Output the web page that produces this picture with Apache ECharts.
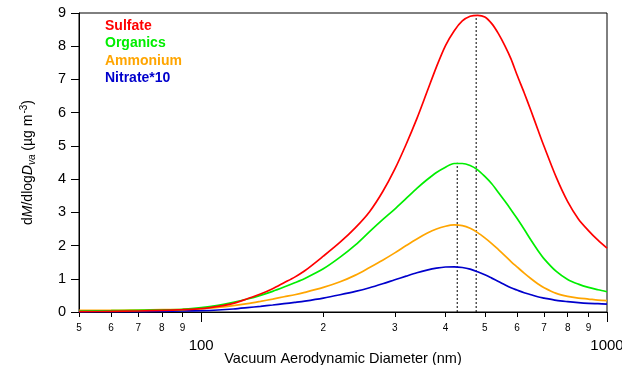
<!DOCTYPE html>
<html>
<head>
<meta charset="utf-8">
<script src="https://cdn.jsdelivr.net/npm/echarts@6/dist/echarts.min.js"></script>
<style>html,body{margin:0;padding:0;background:#fff}#c{width:622px;height:365px}</style>
</head>
<body>
<div id="c"></div>
<script>
var diameters = [50, 60, 70, 80, 90, 100, 110, 120, 130, 140, 150, 160, 170, 180, 200, 220, 240, 260, 280, 300, 320, 340, 360, 380, 400, 420, 440, 460, 480, 500, 520, 540, 560, 580, 600, 625, 650, 675, 700, 750, 800, 850, 900, 950, 1000];
var sulfate = [0.01, 0.02, 0.03, 0.05, 0.07, 0.10, 0.17, 0.26, 0.40, 0.54, 0.70, 0.88, 1.05, 1.24, 1.68, 2.10, 2.54, 3.02, 3.62, 4.30, 5.05, 5.82, 6.62, 7.38, 8.02, 8.46, 8.76, 8.90, 8.93, 8.88, 8.68, 8.38, 8.02, 7.62, 7.14, 6.60, 6.05, 5.50, 4.98, 4.05, 3.32, 2.80, 2.45, 2.16, 1.92];
var organics = [0.03, 0.04, 0.05, 0.06, 0.08, 0.13, 0.20, 0.29, 0.39, 0.50, 0.62, 0.75, 0.88, 1.01, 1.30, 1.65, 2.02, 2.42, 2.78, 3.10, 3.42, 3.72, 3.98, 4.20, 4.36, 4.47, 4.47, 4.41, 4.28, 4.08, 3.86, 3.60, 3.34, 3.08, 2.82, 2.49, 2.16, 1.86, 1.60, 1.22, 0.98, 0.84, 0.74, 0.67, 0.61];
var ammonium = [0.05, 0.05, 0.06, 0.07, 0.08, 0.10, 0.14, 0.19, 0.25, 0.32, 0.39, 0.46, 0.52, 0.59, 0.74, 0.91, 1.11, 1.34, 1.56, 1.78, 2.00, 2.20, 2.37, 2.50, 2.58, 2.62, 2.60, 2.52, 2.39, 2.23, 2.06, 1.88, 1.70, 1.52, 1.36, 1.17, 1.00, 0.85, 0.73, 0.56, 0.47, 0.42, 0.39, 0.36, 0.34];
var nitrate10 = [0.00, 0.01, 0.01, 0.02, 0.03, 0.04, 0.06, 0.09, 0.13, 0.17, 0.21, 0.25, 0.29, 0.33, 0.42, 0.52, 0.62, 0.73, 0.85, 0.97, 1.08, 1.18, 1.26, 1.32, 1.355, 1.36, 1.34, 1.29, 1.21, 1.12, 1.02, 0.92, 0.82, 0.73, 0.66, 0.58, 0.52, 0.46, 0.42, 0.35, 0.31, 0.28, 0.26, 0.25, 0.24];
var seriesNames = ['Sulfate', 'Organics', 'Ammonium', 'Nitrate*10'];
var seriesColors = ['#ff0000', '#00ee00', '#ffa500', '#0000cc'];
var peakOrganics = [427.5, 4.49];
var peakSulfate = [476, 8.93];
var minorTickValues = [50, 60, 70, 80, 90, 200, 300, 400, 500, 600, 700, 800, 900];
var majorTickValues = [100, 1000];

var FONT = '"Liberation Sans", Arial, sans-serif';
function pairs(vals) { return diameters.map(function (d, i) { return [d, vals[i]]; }); }
var allVals = [sulfate, organics, ammonium, nitrate10];

var series = allVals.map(function (v, i) {
  return {
    name: seriesNames[i], type: 'line', data: pairs(v), showSymbol: false, symbol: 'none',
    smooth: 0.3, lineStyle: { color: seriesColors[i], width: 1.7 }, itemStyle: { color: seriesColors[i] },
    z: 5 - i
  };
});
[peakOrganics, peakSulfate].forEach(function (p) {
  series.push({
    type: 'line', data: [[p[0], 0], [p[0], p[1]]], symbol: 'none', silent: true,
    lineStyle: { color: '#000', width: 1, type: [2, 2] }, z: 1
  });
});

var chart = echarts.init(document.getElementById('c'), null, { renderer: 'canvas' });
chart.setOption({
  animation: false,
  backgroundColor: '#fff',
  textStyle: { fontFamily: FONT },
  grid: { left: 79, right: 15, top: 13, bottom: 53, show: true, borderColor: '#000', borderWidth: 1, containLabel: false, outerBoundsMode: 'none' },
  legend: {
    orient: 'vertical', left: 95, top: 14, icon: 'none', itemWidth: 0, itemHeight: 14, itemGap: 3.4,
    selectedMode: false,
    data: seriesNames.map(function (n, i) {
      return { name: n, textStyle: { color: seriesColors[i], fontWeight: 'bold', fontSize: 14, fontFamily: FONT } };
    })
  },
  xAxis: [{
    type: 'log', logBase: 10, min: 50, max: 1000,
    name: 'Vacuum Aerodynamic Diameter (nm)', nameLocation: 'middle', nameGap: 39,
    nameTextStyle: { fontSize: 14.5, color: '#000', fontFamily: FONT },
    axisLine: { onZero: false, lineStyle: { color: '#000', width: 1 } },
    axisTick: { show: true, length: 5, inside: false, customValues: minorTickValues, lineStyle: { color: '#000' } },
    axisLabel: {
      customValues: minorTickValues, fontSize: 10, color: '#000', margin: 11, fontFamily: FONT,
      formatter: function (v) { return String(Math.round(v / Math.pow(10, Math.floor(Math.log10(v) + 1e-9)))); }
    },
    splitLine: { show: false }, minorTick: { show: false }
  }, {
    type: 'log', logBase: 10, min: 50, max: 1000, position: 'bottom', gridIndex: 0,
    axisLine: { show: false },
    axisTick: { show: true, length: 10, customValues: majorTickValues, lineStyle: { color: '#000' } },
    axisLabel: {
      customValues: majorTickValues, fontSize: 15, color: '#000', margin: 26, fontFamily: FONT, showMaxLabel: true,
      formatter: function (v) { return String(Math.round(v)); }
    },
    splitLine: { show: false }
  }],
  yAxis: {
    type: 'value', min: 0, max: 9, interval: 1,
    name: '{n|d}{i|M}{n|/dlog}{i|D}{s|va}{n| (µg m}{p|-3}{n|)}',
    nameLocation: 'middle', nameGap: 41, nameRotate: 90,
    nameTextStyle: {
      color: '#000', fontSize: 14, fontFamily: FONT,
      rich: {
        n: { fontSize: 14, color: '#000', fontFamily: FONT },
        i: { fontSize: 14, fontStyle: 'italic', color: '#000', fontFamily: FONT },
        s: { fontSize: 10, fontStyle: 'italic', color: '#000', fontFamily: FONT, padding: [8, 0, 0, 0] },
        p: { fontSize: 10, color: '#000', fontFamily: FONT, padding: [0, 0, 9, 1] }
      }
    },
    axisLine: { show: true, lineStyle: { color: '#000', width: 1 } },
    axisTick: { show: true, length: 8, lineStyle: { color: '#000' } },
    axisLabel: { fontSize: 14.5, color: '#000', margin: 13, fontFamily: FONT },
    splitLine: { show: false }
  },
  series: series
});
</script>
</body>
</html>
